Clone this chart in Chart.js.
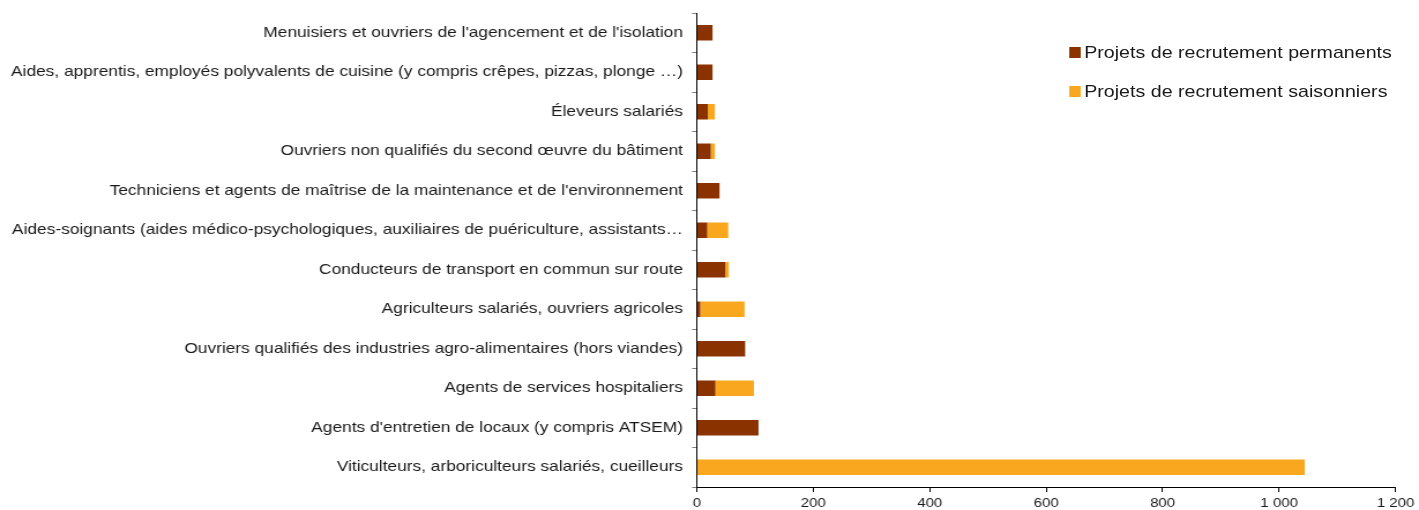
<!DOCTYPE html>
<html lang="fr">
<head>
    <meta charset="UTF-8">
    <title>Projets de recrutement</title>
    <script src="https://cdn.jsdelivr.net/npm/chart.js"></script>
    <style>
        body {
            margin: 0;
            background: #ffffff;
            font-family: Arial, 'Liberation Sans', sans-serif;
            overflow: hidden;
        }

        /* the original image is stretched horizontally (~1.155) */
        .wrap {
            position: relative;
            width: 1229px;
            height: 510px;
            transform: scaleX(1.1546);
            transform-origin: left top;
        }

        .legend {
            position: absolute;
            left: 926px;
            top: 42px;
            color: #1a1a1a;
            font-size: 17px;
        }

        .legend div {
            display: flex;
            align-items: center;
            height: 21px;
            margin-bottom: 18px;
        }

        .legend span {
            display: inline-block;
            width: 9.5px;
            height: 11px;
            margin-right: 3.5px;
        }
    </style>
</head>
<body>
    <div class="wrap">
        <canvas id="chart" width="1229" height="510"></canvas>
        <div class="legend">
            <div><span style="background:#8b3300"></span>Projets de recrutement permanents</div>
            <div><span style="background:#f9a71e"></span>Projets de recrutement saisonniers</div>
        </div>
    </div>

    <script>
        const categories = [
            "Menuisiers et ouvriers de l'agencement et de l'isolation",
            "Aides, apprentis, employés polyvalents de cuisine (y compris crêpes, pizzas, plonge …)",
            "Éleveurs salariés",
            "Ouvriers non qualifiés du second œuvre du bâtiment",
            "Techniciens et agents de maîtrise de la maintenance et de l'environnement",
            "Aides-soignants (aides médico-psychologiques, auxiliaires de puériculture, assistants…",
            "Conducteurs de transport en commun sur route",
            "Agriculteurs salariés, ouvriers agricoles",
            "Ouvriers qualifiés des industries agro-alimentaires (hors viandes)",
            "Agents de services hospitaliers",
            "Agents d'entretien de locaux (y compris ATSEM)",
            "Viticulteurs, arboriculteurs salariés, cueilleurs"
        ];

        const permanents = [27, 27, 19, 24, 39, 18, 49, 6, 83, 32, 106, 0];
        const saisonniers = [0, 0, 12, 7, 0, 36, 6, 76, 0, 66, 0, 1044];

        const xTicks = [0, 200, 400, 600, 800, 1000, 1200];

        function formatNumber(v) {
            // espace comme séparateur de milliers
            return String(v).replace(/\B(?=(\d{3})+(?!\d))/g, ' ');
        }

        new Chart(document.getElementById('chart'), {
            type: 'bar',
            data: {
                labels: categories,
                datasets: [
                    {
                        label: 'Projets de recrutement permanents',
                        data: permanents,
                        backgroundColor: '#8b3300'
                    },
                    {
                        label: 'Projets de recrutement saisonniers',
                        data: saisonniers,
                        backgroundColor: '#f9a71e'
                    }
                ]
            },
            options: {
                indexAxis: 'y',
                responsive: false,
                animation: false,
                barPercentage: 0.39,
                categoryPercentage: 1,
                layout: { padding: { top: 13, right: 18, left: 0, bottom: 0 } },
                plugins: {
                    legend: { display: false },
                    tooltip: { enabled: false }
                },
                scales: {
                    x: {
                        stacked: true,
                        min: 0,
                        max: 1200,
                        afterBuildTicks: (scale) => {
                            scale.ticks = xTicks.map(v => ({ value: v }));
                        },
                        afterFit: (scale) => { scale.height = 23; },
                        border: { color: '#000000', width: 1 },
                        grid: { drawOnChartArea: false, drawTicks: true, tickLength: 5, color: '#000000' },
                        ticks: {
                            color: '#1a1a1a',
                            padding: 4,
                            font: { family: 'Arial, "Liberation Sans"', size: 13 },
                            callback: (v) => formatNumber(v)
                        }
                    },
                    y: {
                        stacked: true,
                        afterFit: (scale) => {
                            scale.width = 603.5;
                            scale.paddingTop = 0;
                            scale.paddingBottom = 0;
                        },
                        border: { color: '#000000', width: 1 },
                        grid: { drawOnChartArea: false, drawTicks: true, tickLength: 4, color: '#808080', offset: true },
                        ticks: {
                            color: '#1a1a1a',
                            padding: 8,
                            autoSkip: false,
                            font: { family: 'Arial, "Liberation Sans"', size: 15 }
                        }
                    }
                }
            }
        });
    </script>
</body>
</html>
